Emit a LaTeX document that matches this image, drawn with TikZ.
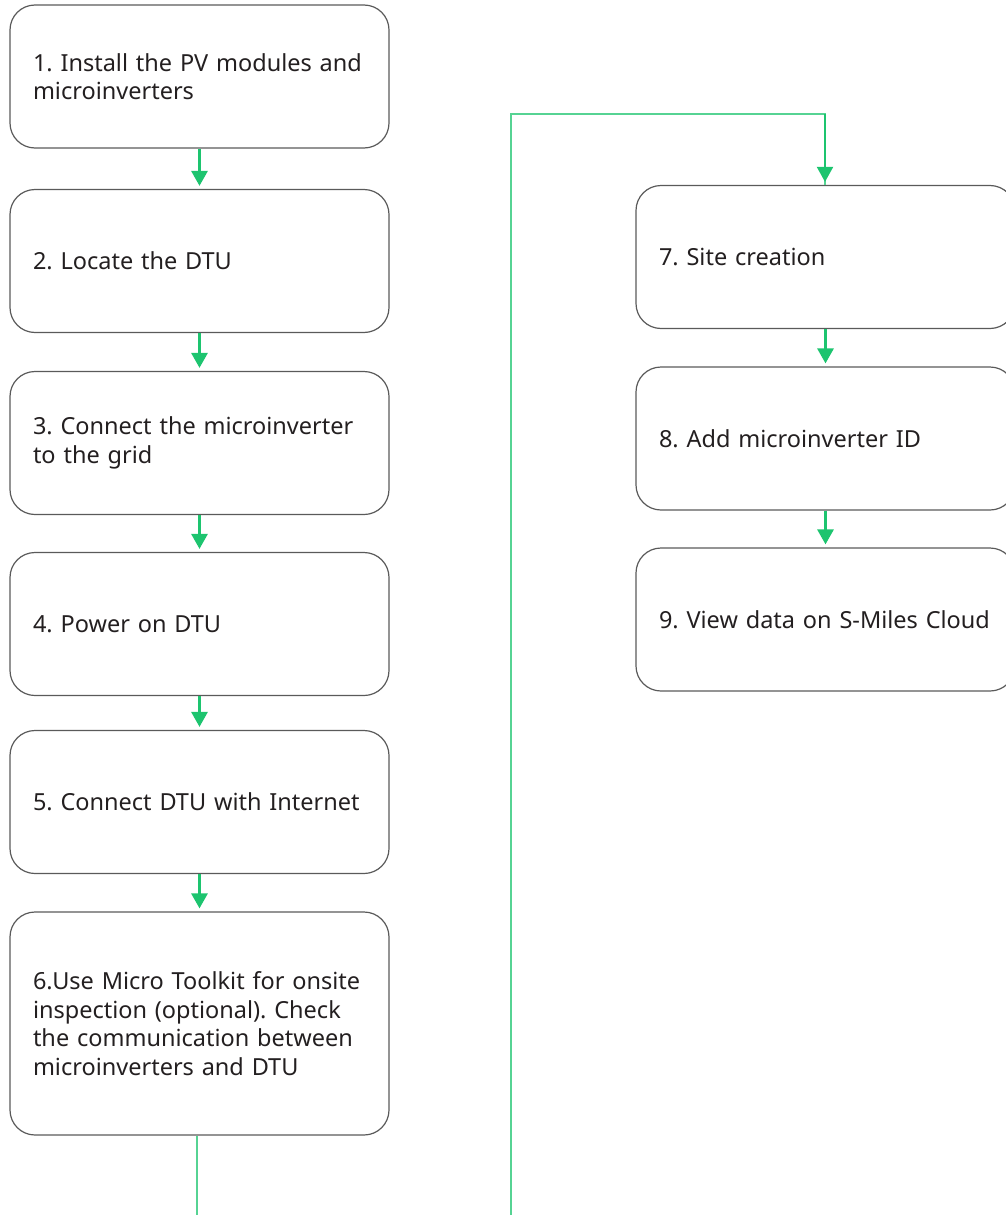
\documentclass[tikz,border=0pt]{standalone}
\usepackage{fontspec}
\setmainfont{Noto Sans}
\usetikzlibrary{arrows.meta}
\frenchspacing

\definecolor{flowgreen}{HTML}{1DC46F}
\definecolor{boxgray}{HTML}{5A5A5A}
\definecolor{txtdark}{HTML}{231F20}

\tikzstyle{stepbox}=[draw=boxgray,line width=1.2pt,rectangle,rounded corners=25pt,minimum width=379pt,minimum height=143pt,text width=333pt,inner xsep=23pt,align=left,text=txtdark,font=\fontsize{23.5}{28.5}\selectfont,execute at begin node={\hyphenpenalty=10000\relax}]
\tikzstyle{flow} = [draw=flowgreen,line width=3pt,-{Triangle[width=16pt,length=15pt]},shorten >=3pt]
\tikzstyle{link} = [draw=flowgreen!75,line width=2pt]

\begin{document}
\begin{tikzpicture}[x=1pt, y=-1pt]
    \useasboundingbox (0,0) rectangle (1006,1215);
    % First we draw the step boxes
    \foreach \px/\py/\name/\txt in {
        199.5/76.5/s1/{1. Install the PV modules and\\microinverters},
        199.5/261/s2/{2. Locate the DTU},
        199.5/443/s3/{3. Connect the microinverter\\to the grid},
        199.5/624/s4/{4. Power on DTU},
        199.5/802/s5/{5. Connect DTU with Internet},
        825.5/257/s7/{7. Site creation},
        825.5/438.5/s8/{8. Add microinverter ID},
        825.5/619.5/s9/{9. View data on S-Miles Cloud}}
        \node[stepbox] (\name) at (\px,\py) {\txt};
    \node[stepbox, minimum height=223pt] (s6) at (199.5,1023.5)
        {6.Use Micro Toolkit for onsite\\inspection (optional). Check\\the communication between\\microinverters and DTU};
    % Connect the steps with arrows
    \foreach \source/\dest in {s1/s2,s2/s3,s3/s4,s4/s5,s5/s6,s7/s8,s8/s9}
        \path[flow] (\source) -- (\dest);
    % Jump from the left column to the right one
    \coordinate (out6) at (197,1215);
    \coordinate (in7) at (511,1215);
    \coordinate (top) at (511,114);
    \path[link] (s6.south -| out6) -- (out6);
    \path[link] (in7) -- (top) -| ([xshift=-0.5pt]s7.north);
    \path[flow, line width=2pt] ([xshift=-0.5pt]s7.north |- top) -- ([xshift=-0.5pt]s7.north);
\end{tikzpicture}
\end{document}
